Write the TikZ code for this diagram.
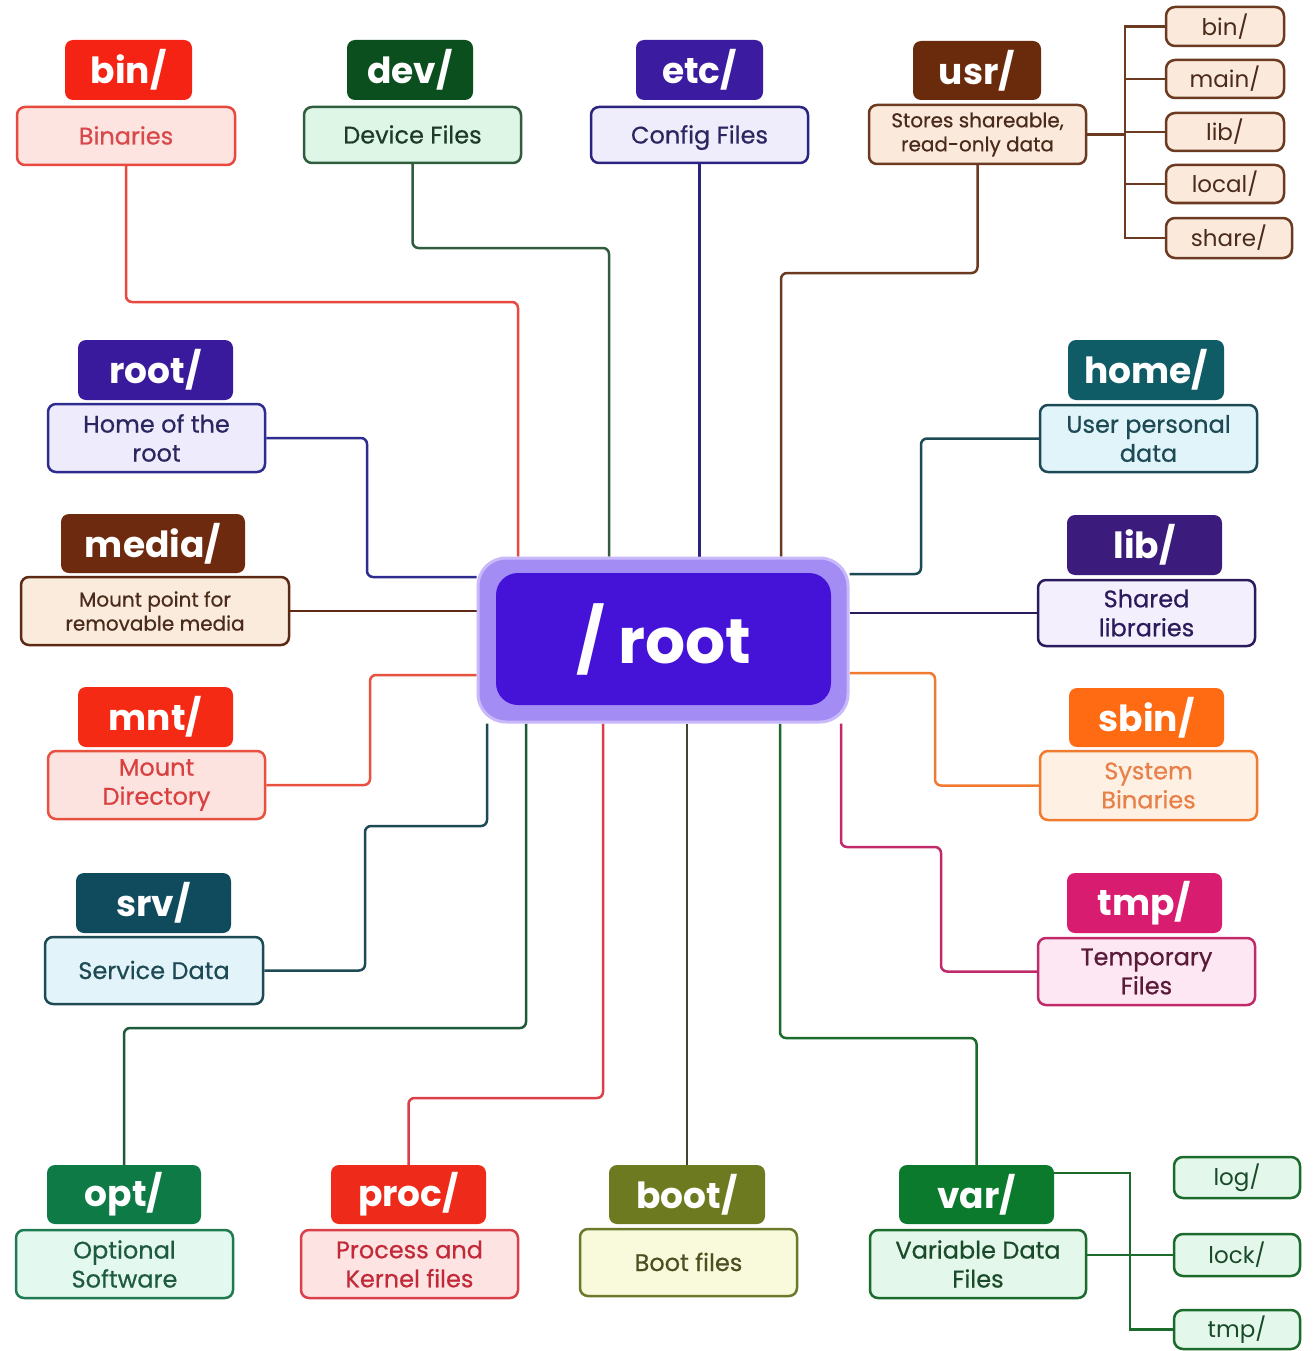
\documentclass[tikz,border=0pt]{standalone}
\usepackage{fontspec}
\setmainfont{Poppins}
\newfontfamily\popmed[FakeBold=0.6]{Poppins}
\usetikzlibrary{backgrounds}
\definecolor{binH}{HTML}{F42314}\definecolor{binF}{HTML}{FDE4E0}\definecolor{binL}{HTML}{E8483D}\definecolor{binT}{HTML}{D9484A}
\definecolor{devH}{HTML}{0B4F1F}\definecolor{devF}{HTML}{DDF6E6}\definecolor{devL}{HTML}{2F5D3D}\definecolor{devT}{HTML}{1E3A28}
\definecolor{etcH}{HTML}{3B1B9F}\definecolor{etcF}{HTML}{EFECFC}\definecolor{etcL}{HTML}{2B2380}\definecolor{etcT}{HTML}{2A2660}
\definecolor{usrH}{HTML}{6A2B0D}\definecolor{usrF}{HTML}{FBEADC}\definecolor{usrL}{HTML}{6B3A20}\definecolor{usrT}{HTML}{4A2A1A}
\definecolor{rootH}{HTML}{3A1A9C}\definecolor{rootF}{HTML}{EEEBFC}\definecolor{rootL}{HTML}{2F2C90}\definecolor{rootT}{HTML}{2A2660}
\definecolor{mediaH}{HTML}{6E2A0E}\definecolor{mediaF}{HTML}{FBEBDD}\definecolor{mediaL}{HTML}{5C2A14}\definecolor{mediaT}{HTML}{4A2A1A}
\definecolor{mntH}{HTML}{F42A14}\definecolor{mntF}{HTML}{FDE3DF}\definecolor{mntL}{HTML}{E85040}\definecolor{mntT}{HTML}{D94040}
\definecolor{srvH}{HTML}{0F4B5C}\definecolor{srvF}{HTML}{E2F4FA}\definecolor{srvL}{HTML}{1E4A55}\definecolor{srvT}{HTML}{1E4A55}
\definecolor{optH}{HTML}{0E7A45}\definecolor{optF}{HTML}{E3F8EE}\definecolor{optL}{HTML}{1E7A50}\definecolor{optT}{HTML}{1E5A40}\definecolor{optC}{HTML}{1E5A3A}
\definecolor{procH}{HTML}{EE2A1A}\definecolor{procF}{HTML}{FDE4E2}\definecolor{procL}{HTML}{D9404A}\definecolor{procT}{HTML}{C22A3A}
\definecolor{bootH}{HTML}{6D7A1F}\definecolor{bootF}{HTML}{F9FADC}\definecolor{bootL}{HTML}{6B7A2A}\definecolor{bootT}{HTML}{4A5020}\definecolor{bootC}{HTML}{3E4632}
\definecolor{varH}{HTML}{0B7A2C}\definecolor{varF}{HTML}{E3F8EA}\definecolor{varL}{HTML}{1B6B2C}\definecolor{varT}{HTML}{1A4A2A}
\definecolor{homeH}{HTML}{0F5B66}\definecolor{homeF}{HTML}{E0F4FA}\definecolor{homeL}{HTML}{1E4A55}\definecolor{homeT}{HTML}{1E4A55}
\definecolor{libH}{HTML}{3B1B7C}\definecolor{libF}{HTML}{F3EFFC}\definecolor{libL}{HTML}{2B1B5C}\definecolor{libT}{HTML}{2B1B5C}
\definecolor{sbinH}{HTML}{FF6B12}\definecolor{sbinF}{HTML}{FEF1E4}\definecolor{sbinL}{HTML}{F07A30}\definecolor{sbinT}{HTML}{E8804A}
\definecolor{tmpH}{HTML}{D81C70}\definecolor{tmpF}{HTML}{FDE7F3}\definecolor{tmpL}{HTML}{C02A6A}\definecolor{tmpT}{HTML}{5A1A3A}
\definecolor{glow}{HTML}{A48CF5}\definecolor{glowL}{HTML}{C9B9FB}\definecolor{core}{HTML}{4512D8}
\newcommand\mkbox[7]{\node[#6, minimum width={#4-#2}, minimum height={#5-#3}] (#1) at ({(#2+#4)/2},{(#3+#5)/2}) {#7};}
\tikzset{
  hdr/.style={rounded corners=8pt, fill=#1, text=white, inner sep=0pt,
    font=\fontsize{36}{40}\selectfont\bfseries},
  dsc/.style args={#1/#2/#3}{fill=#1, draw=#2, text=#3, line width=2.5pt, rounded corners=8pt,
    inner sep=0pt, align=center, font=\fontsize{24}{29}\selectfont\popmed},
  one/.style={text height=17pt, text depth=0pt},
  dscs/.style args={#1/#2/#3}{dsc=#1/#2/#3, font=\fontsize{20}{24}\selectfont\popmed},
  sub/.style args={#1/#2/#3}{fill=#1, draw=#2, text=#3, line width=2.5pt, rounded corners=9pt,
    inner sep=0pt, font=\fontsize{23}{26}\selectfont},
  conn/.style={line width=2.5pt, rounded corners=6pt, draw=#1},
  tree/.style={line width=2.5pt, draw=#1}
}
\begin{document}
\begin{tikzpicture}[x=1pt,y=-1pt]
\useasboundingbox (0,0) rectangle (1312,1351);
% centre
\mkbox{rootg}{478}{558}{848}{722}{fill=glow, draw=glowL, line width=3pt, rounded corners=28pt}{}
\mkbox{rootc}{496}{573}{831}{705}{fill=core, rounded corners=22pt, text=white, font=\fontsize{63}{70}\selectfont\bfseries, inner sep=0pt}{/ root}
% top row
\mkbox{binh}{65}{40}{192}{100}{hdr=binH}{bin/}
\mkbox{bind}{17}{107}{235}{165}{dsc=binF/binL/binT, one}{Binaries}
\mkbox{devh}{347}{40}{473}{100}{hdr=devH}{dev/}
\mkbox{devd}{304}{107}{521}{163}{dsc=devF/devL/devT, one}{Device Files}
\mkbox{etch}{636}{40}{763}{100}{hdr=etcH}{etc/}
\mkbox{etcd}{591}{107}{808}{163}{dsc=etcF/etcL/etcT, one}{Config Files}
\mkbox{usrh}{913}{41}{1041}{100}{hdr=usrH}{usr/}
\mkbox{usrd}{869}{105}{1086}{164}{dscs=usrF/usrL/usrT}{Stores shareable,\\read-only data}
\mkbox{ubin}{1166}{7}{1284}{46}{sub=usrF/usrL/usrT}{bin/}
\mkbox{umain}{1166}{60}{1284}{98}{sub=usrF/usrL/usrT}{main/}
\mkbox{ulib}{1166}{113}{1284}{151}{sub=usrF/usrL/usrT}{lib/}
\mkbox{ulocal}{1166}{165}{1284}{203}{sub=usrF/usrL/usrT}{local/}
\mkbox{ushare}{1166}{218}{1292}{258}{sub=usrF/usrL/usrT}{share/}
% left column
\mkbox{rooth}{78}{340}{233}{400}{hdr=rootH}{root/}
\mkbox{rootd}{48}{404}{265}{472}{dsc=rootF/rootL/rootT}{Home of the\\root}
\mkbox{mediah}{61}{514}{245}{573}{hdr=mediaH}{media/}
\mkbox{mediad}{21}{577}{289}{645}{dscs=mediaF/mediaL/mediaT}{Mount point for\\removable media}
\mkbox{mnth}{78}{687}{233}{747}{hdr=mntH}{mnt/}
\mkbox{mntd}{48}{751}{265}{819}{dsc=mntF/mntL/mntT}{Mount\\Directory}
\mkbox{srvh}{76}{873}{231}{933}{hdr=srvH}{srv/}
\mkbox{srvd}{45}{937}{263}{1004}{dsc=srvF/srvL/srvT, one}{Service Data}
% right column
\mkbox{homeh}{1068}{340}{1224}{400}{hdr=homeH}{home/}
\mkbox{homed}{1040}{405}{1257}{472}{dsc=homeF/homeL/homeT}{User personal\\data}
\mkbox{libh}{1067}{515}{1222}{575}{hdr=libH}{lib/}
\mkbox{libd}{1038}{580}{1255}{646}{dsc=libF/libL/libT}{Shared\\libraries}
\mkbox{sbinh}{1069}{688}{1224}{747}{hdr=sbinH}{sbin/}
\mkbox{sbind}{1040}{751}{1257}{820}{dsc=sbinF/sbinL/sbinT}{System\\Binaries}
\mkbox{tmph}{1067}{873}{1222}{933}{hdr=tmpH}{tmp/}
\mkbox{tmpd}{1038}{938}{1255}{1005}{dsc=tmpF/tmpL/tmpT}{Temporary\\Files}
% bottom row
\mkbox{opth}{47}{1165}{201}{1224}{hdr=optH}{opt/}
\mkbox{optd}{16}{1230}{233}{1298}{dsc=optF/optL/optT}{Optional\\Software}
\mkbox{proch}{331}{1165}{486}{1224}{hdr=procH}{proc/}
\mkbox{procd}{301}{1230}{518}{1298}{dsc=procF/procL/procT}{Process and\\Kernel files}
\mkbox{booth}{609}{1165}{765}{1224}{hdr=bootH}{boot/}
\mkbox{bootd}{580}{1229}{797}{1296}{dsc=bootF/bootL/bootT, one}{Boot files}
\mkbox{varh}{899}{1165}{1054}{1224}{hdr=varH}{var/}
\mkbox{vard}{870}{1230}{1086}{1298}{dsc=varF/varL/varT}{Variable Data\\Files}
\mkbox{vlog}{1174}{1157}{1300}{1198}{sub=varF/varL/varT}{log/}
\mkbox{vlock}{1174}{1234}{1300}{1276}{sub=varF/varL/varT}{lock/}
\mkbox{vtmp}{1174}{1310}{1300}{1349}{sub=varF/varL/varT}{tmp/}
\begin{scope}[on background layer]
\fill[white] (0,0) rectangle (1312,1351);
% top
\draw[conn=binL] (bind.south) |- (518,302) -- (518,0 |- rootg.north);
\draw[conn=devL] (devd.south) |- (609,248) -- (609,0 |- rootg.north);
\draw[conn=etcL] (etcd.south) -- (etcd.south |- rootg.north);
\draw[conn=usrL] (usrd.south) |- (781,273) -- (781,0 |- rootg.north);
% left
\draw[conn=rootL] (rootd.east) -| (367,577) -- (rootg.west |- 0,577);
\draw[conn=mediaL] (mediad.east) -- (rootg.west |- mediad.east);
\draw[conn=mntL] (mntd.east) -| (370,675) -- (rootg.west |- 0,675);
\draw[conn=srvL] (srvd.east) -| (365,826) -| (487,0 |- rootg.south);
% bottom
\draw[conn=optC] (opth.north) |- (526,1028) -- (526,0 |- rootg.south);
\draw[conn=procL] (proch.north) |- (603,1098) -- (603,0 |- rootg.south);
\draw[conn=bootC] (booth.north) -- (booth.north |- rootg.south);
\draw[conn=varL] (varh.north) |- (780,1038) -- (780,0 |- rootg.south);
% right
\draw[conn=homeL] (homed.west) -| (921,574) -- (rootg.east |- 0,574);
\draw[conn=libL] (libd.west) -- (rootg.east |- libd.west);
\draw[conn=sbinL] (sbind.west) -| (935,673) -- (rootg.east |- 0,673);
\draw[conn=tmpL] (tmpd.west) -| (941,847) -| (841,0 |- rootg.south);
% usr tree
\draw[tree=usrL] (ubin.west) -| (1125,0 |- ushare.west) -- (ushare.west);
\foreach \n in {umain,ulib,ulocal} \draw[tree=usrL] (\n.west) -- (1125,0 |- \n.west);
\draw[tree=usrL] (usrd.east) -- (1125,0 |- usrd.east);
% var tree
\draw[tree=varL] (varh.east |- 0,1173) -| (1130,0 |- vtmp.west) -- (vtmp.west);
\draw[tree=varL] (vard.east |- vlock.west) -- (vlock.west);
\end{scope}
\end{tikzpicture}
\end{document}
